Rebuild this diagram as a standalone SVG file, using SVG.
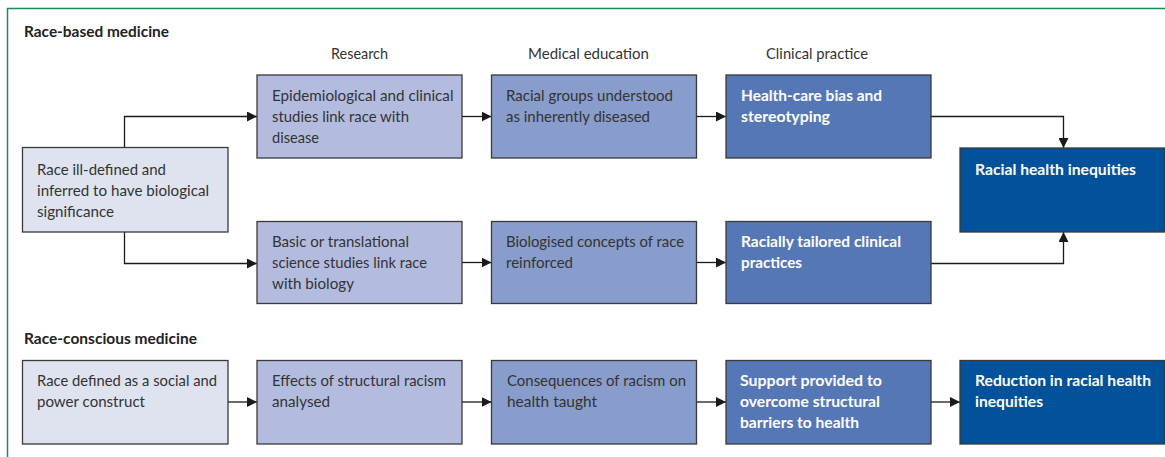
<svg xmlns="http://www.w3.org/2000/svg" width="1165" height="457" viewBox="0 0 1165 457">
<defs>
<marker id="ah" viewBox="0 0 10 10" refX="10" refY="5" markerWidth="10" markerHeight="10" markerUnits="userSpaceOnUse" orient="auto">
<path d="M0,0 L10,5 L0,10 Z" fill="#1a1a1a"/>
</marker>
<style>
.box{stroke:#3a3a3a;stroke-width:1.3}
.c0{fill:#dee3ef}.c1{fill:#b3bcdf}.c2{fill:#889dcb}.c3{fill:#5677b6}.c4{fill:#01519b}
.t{font-family:Lato,"Open Sans","Liberation Sans",sans-serif;font-size:15px;fill:#333}
.w{font-family:Lato,"Open Sans","Liberation Sans",sans-serif;font-size:15px;font-weight:bold;fill:#fff}
.h{font-family:Lato,"Open Sans","Liberation Sans",sans-serif;font-size:15px;font-weight:bold;fill:#222}
.hd{font-family:Lato,"Open Sans","Liberation Sans",sans-serif;font-size:15px;fill:#333}
.ln{fill:none;stroke:#1a1a1a;stroke-width:1.3}
</style>
</defs>
<rect width="1165" height="457" fill="#fff"/>
<path d="M7.5,457 V8.5 H1165" fill="none" stroke="#1d8a58" stroke-width="1.5"/>

<text class="h" x="24" y="37" textLength="145" lengthAdjust="spacingAndGlyphs">Race-based medicine</text>
<text class="h" x="24" y="344" textLength="173" lengthAdjust="spacingAndGlyphs">Race-conscious medicine</text>
<g id="headers">
<text class="hd" x="331" y="59" textLength="57" lengthAdjust="spacingAndGlyphs">Research</text>
<text class="hd" x="528" y="59" textLength="121" lengthAdjust="spacingAndGlyphs">Medical education</text>
<text class="hd" x="766" y="59" textLength="102" lengthAdjust="spacingAndGlyphs">Clinical practice</text>
</g>

<g id="connectors">
<path class="ln" d="M124.5,147 V116.5 H257" marker-end="url(#ah)"/>
<path class="ln" d="M124.5,232 V263.5 H257" marker-end="url(#ah)"/>
<path class="ln" d="M462,116.5 H491.5" marker-end="url(#ah)"/>
<path class="ln" d="M696.5,116.5 H726" marker-end="url(#ah)"/>
<path class="ln" d="M931,116.5 H1063.5 V148" marker-end="url(#ah)"/>
<path class="ln" d="M462,262.5 H491.5" marker-end="url(#ah)"/>
<path class="ln" d="M696.5,262.5 H726" marker-end="url(#ah)"/>
<path class="ln" d="M931,263.5 H1063.5 V232" marker-end="url(#ah)"/>
<path class="ln" d="M228,402 H257" marker-end="url(#ah)"/>
<path class="ln" d="M462,402 H491.5" marker-end="url(#ah)"/>
<path class="ln" d="M696.5,402 H726" marker-end="url(#ah)"/>
<path class="ln" d="M931,402 H960" marker-end="url(#ah)"/>
</g>

<g id="n-race-ill">
<rect class="box c0" x="22.5" y="147.5" width="205.5" height="84.5"/>
<text class="t" x="37" y="175" textLength="129" lengthAdjust="spacingAndGlyphs">Race ill-defined and</text>
<text class="t" x="37" y="196" textLength="172" lengthAdjust="spacingAndGlyphs">inferred to have biological</text>
<text class="t" x="37" y="217" textLength="77" lengthAdjust="spacingAndGlyphs">significance</text>
</g>
<g id="n-epi">
<rect class="box c1" x="257" y="75" width="205" height="83"/>
<text class="t" x="272" y="101" textLength="181.5" lengthAdjust="spacingAndGlyphs">Epidemiological and clinical</text>
<text class="t" x="272" y="122" textLength="137" lengthAdjust="spacingAndGlyphs">studies link race with</text>
<text class="t" x="272" y="143" textLength="47" lengthAdjust="spacingAndGlyphs">disease</text>
</g>
<g id="n-groups">
<rect class="box c2" x="491.5" y="75" width="205" height="83"/>
<text class="t" x="506" y="101" textLength="167" lengthAdjust="spacingAndGlyphs">Racial groups understood</text>
<text class="t" x="506" y="122" textLength="144" lengthAdjust="spacingAndGlyphs">as inherently diseased</text>
</g>
<g id="n-bias">
<rect class="box c3" x="726" y="75" width="205" height="83"/>
<text class="w" x="741" y="101" textLength="141" lengthAdjust="spacingAndGlyphs">Health-care bias and</text>
<text class="w" x="741" y="122" textLength="89" lengthAdjust="spacingAndGlyphs">stereotyping</text>
</g>
<g id="n-inequities">
<rect class="box c4" x="960" y="148" width="204.5" height="84"/>
<text class="w" x="975" y="175" textLength="161" lengthAdjust="spacingAndGlyphs">Racial health inequities</text>
</g>
<g id="n-basic">
<rect class="box c1" x="257" y="221.5" width="205" height="82"/>
<text class="t" x="272" y="247" textLength="137" lengthAdjust="spacingAndGlyphs">Basic or translational</text>
<text class="t" x="272" y="268" textLength="155" lengthAdjust="spacingAndGlyphs">science studies link race</text>
<text class="t" x="272" y="289" textLength="82" lengthAdjust="spacingAndGlyphs">with biology</text>
</g>
<g id="n-biologised">
<rect class="box c2" x="491.5" y="221.5" width="205" height="82"/>
<text class="t" x="506" y="247" textLength="178" lengthAdjust="spacingAndGlyphs">Biologised concepts of race</text>
<text class="t" x="506" y="268" textLength="67" lengthAdjust="spacingAndGlyphs">reinforced</text>
</g>
<g id="n-tailored">
<rect class="box c3" x="726" y="221.5" width="205" height="82"/>
<text class="w" x="741" y="247" textLength="160" lengthAdjust="spacingAndGlyphs">Racially tailored clinical</text>
<text class="w" x="741" y="268" textLength="61" lengthAdjust="spacingAndGlyphs">practices</text>
</g>

<g id="n-social">
<rect class="box c0" x="22.5" y="360.5" width="205.5" height="83.5"/>
<text class="t" x="37" y="386" textLength="180" lengthAdjust="spacingAndGlyphs">Race defined as a social and</text>
<text class="t" x="37" y="407" textLength="108" lengthAdjust="spacingAndGlyphs">power construct</text>
</g>
<g id="n-effects">
<rect class="box c1" x="257" y="360.5" width="205" height="83.5"/>
<text class="t" x="272" y="386" textLength="174" lengthAdjust="spacingAndGlyphs">Effects of structural racism</text>
<text class="t" x="272" y="407" textLength="58" lengthAdjust="spacingAndGlyphs">analysed</text>
</g>
<g id="n-consequences">
<rect class="box c2" x="491.5" y="360.5" width="205" height="83.5"/>
<text class="t" x="507" y="386" textLength="179" lengthAdjust="spacingAndGlyphs">Consequences of racism on</text>
<text class="t" x="507" y="407" textLength="90" lengthAdjust="spacingAndGlyphs">health taught</text>
</g>
<g id="n-support">
<rect class="box c3" x="726" y="360.5" width="205" height="83.5"/>
<text class="w" x="740" y="386" textLength="142" lengthAdjust="spacingAndGlyphs">Support provided to</text>
<text class="w" x="740" y="407" textLength="140" lengthAdjust="spacingAndGlyphs">overcome structural</text>
<text class="w" x="740" y="428" textLength="119" lengthAdjust="spacingAndGlyphs">barriers to health</text>
</g>
<g id="n-reduction">
<rect class="box c4" x="960" y="360.5" width="204.5" height="83.5"/>
<text class="w" x="975" y="386" textLength="176" lengthAdjust="spacingAndGlyphs">Reduction in racial health</text>
<text class="w" x="975" y="407" textLength="68" lengthAdjust="spacingAndGlyphs">inequities</text>
</g>
</svg>
